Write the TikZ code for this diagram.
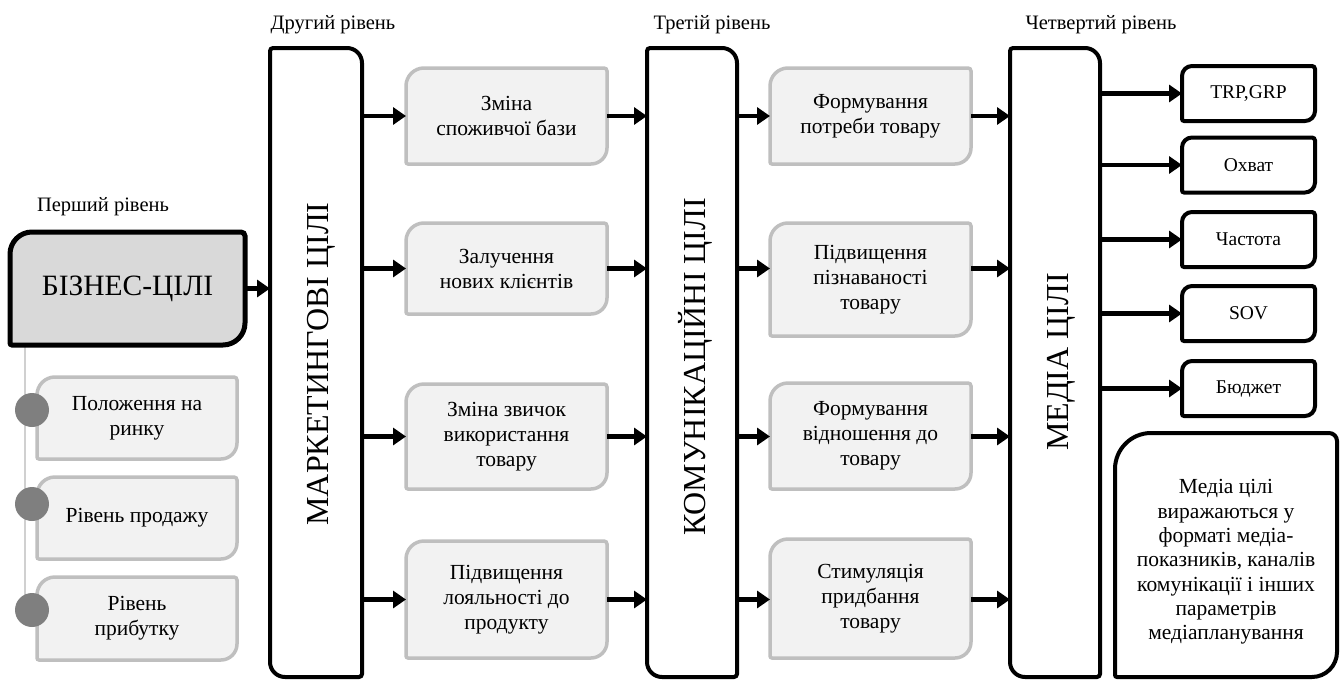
\documentclass[tikz,border=0pt]{standalone}
\usepackage{fontspec}
\setmainfont{Liberation Serif}
\usepackage{tikz}
\usetikzlibrary{arrows.meta,calc,backgrounds,positioning}

\definecolor{boxgray}{HTML}{F2F2F2}
\definecolor{linegray}{HTML}{BFBFBF}
\definecolor{bizgray}{HTML}{D9D9D9}
\definecolor{dotgray}{HTML}{7F7F7F}
\definecolor{spinegray}{HTML}{D0D0D0}

\newcommand{\bigtxt}{\fontsize{32}{36}\selectfont}
\newcommand{\biztxt}{\fontsize{29.5}{34}\selectfont}
\newcommand{\smalltxt}{\fontsize{19.5}{22}\selectfont}

% outline of a node with its own radius at each corner: TL, TR, BR, BL
\newcommand{\cornerpath}[6]{%
  \draw[#2] ($(#1.north west)+(0,#3)$)
    .. controls ($(#1.north west)+(0,0.45*#3)$) and ($(#1.north west)+(0.45*#3,0)$) .. ($(#1.north west)+(#3,0)$)
    -- ($(#1.north east)+(-#4,0)$)
    .. controls ($(#1.north east)+(-0.45*#4,0)$) and ($(#1.north east)+(0,0.45*#4)$) .. ($(#1.north east)+(0,#4)$)
    -- ($(#1.south east)+(0,-#5)$)
    .. controls ($(#1.south east)+(0,-0.45*#5)$) and ($(#1.south east)+(-0.45*#5,0)$) .. ($(#1.south east)+(-#5,0)$)
    -- ($(#1.south west)+(#6,0)$)
    .. controls ($(#1.south west)+(0.45*#6,0)$) and ($(#1.south west)+(0,-0.45*#6)$) .. ($(#1.south west)+(0,-#6)$)
    -- cycle;}

\tikzstyle{arr}  =[line width=4.5pt, -{Triangle[length=13pt,width=17pt]}]
\tikzstyle{plain}=[inner sep=0pt, outer sep=0pt, align=center]
\tikzstyle{gbox} =[plain, minimum width=201pt]
\tikzstyle{sbox} =[plain, minimum width=200pt]
\tikzstyle{tall} =[plain, minimum width=90pt, minimum height=629pt]
\tikzstyle{mbox} =[plain, minimum width=133pt, minimum height=55pt,
                   font=\smalltxt]
\tikzstyle{lvl}  =[plain, font=\fontsize{20.5}{24}\selectfont]
\tikzstyle{dot}  =[circle, fill=dotgray, minimum size=34pt,
                   inner sep=0pt]
\tikzstyle{grayline} =[draw=linegray, fill=boxgray, line width=3.5pt]
\tikzstyle{blackline}=[draw=black, fill=white, line width=4pt]

\begin{document}
\begin{tikzpicture}[x=1pt, y=-1pt, font=\fontsize{21.5}{25}\selectfont]
    \useasboundingbox (0,0) rectangle (1344,680);

    % level labels
    \draw (103,207) node (lvlone) [lvl] {Перший рівень};
    \draw (333,25) node (lvltwo) [lvl] {Другий рівень};
    \draw (712,25) node (lvlthree) [lvl] {Третій рівень};
    \draw (1101,25) node (lvlfour) [lvl] {Четвертий рівень};

    % first level
    \draw (127.5,288.5) node (biz) [plain, minimum width=235pt, minimum height=113pt, font=\biztxt] {БІЗНЕС-ЦІЛІ};
    \draw (137,418) node (s1) [sbox, minimum height=82pt] {Положення на\\ринку};
    \draw (137,518) node (s2) [sbox, minimum height=82pt] {Рівень продажу};
    \draw (137,618.5) node (s3) [sbox, minimum height=83pt] {Рівень\\прибутку};
    \coordinate (spinetop) at (25,345);

    % second level
    \draw (316,362.5) node (mk) [tall, minimum width=92pt] {};
    \draw (328,364) node (mktext) [anchor=base, rotate=90, font=\bigtxt] {МАРКЕТИНГОВІ ЦІЛІ};
    \draw (506.5,116) node (c2a) [gbox, minimum height=96pt] {Зміна\\споживчої бази};
    \draw (506.5,268.5) node (c2b) [gbox, minimum height=91pt] {Залучення\\нових клієнтів};
    \draw (506.5,436.5) node (c2c) [gbox, minimum height=105pt] {Зміна звичок\\використання\\товару};
    \draw (506.5,599.5) node (c2d) [gbox, minimum height=117pt] {Підвищення\\лояльності до\\продукту};

    % third level
    \draw (692,362.5) node (kom) [tall] {};
    \draw (705,367) node (komtext) [anchor=base, rotate=90, font=\bigtxt] {КОМУНІКАЦІЙНІ ЦІЛІ};
    \draw (870.5,116) node (c3a) [gbox, minimum height=96pt] {Формування\\потреби товару};
    \draw (870.5,279.5) node (c3b) [gbox, minimum height=113pt] {Підвищення\\пізнаваності\\товару};
    \draw (870.5,436) node (c3c) [gbox, minimum height=106pt] {Формування\\відношення до\\товару};
    \draw (870.5,598.5) node (c3d) [gbox, minimum height=119pt] {Стимуляція\\придбання\\товару};

    % fourth level
    \draw (1055,362.5) node (med) [tall] {};
    \draw (1068,362) node (medtext) [anchor=base, rotate=90, font=\bigtxt] {МЕДІА ЦІЛІ};
    \draw (1248.5,93.5) node (r1) [mbox] {TRP,GRP};
    \draw (1248.5,165) node (r2) [mbox] {Охват};
    \draw (1248.5,239.5) node (r3) [mbox] {Частота};
    \draw (1248.5,313.5) node (r4) [mbox] {SOV};
    \draw (1248.5,388.5) node (r5) [mbox] {Бюджет};
    \draw (1226,555) node (note) [plain, minimum width=222pt, minimum height=244pt] {};
    \draw (1226,562) node (notetext) [plain, font=\fontsize{21.5}{24.3}\selectfont]
        {Медіа цілі\\виражаються у\\форматі медіа-\\показників, каналів\\комунікації і інших\\параметрів\\медіапланування};

    % outlines behind the texts
    \begin{scope}[on background layer]
        \draw [spinegray, line width=2pt] (spinetop) -- (spinetop |- s3.west);
        \cornerpath{biz}{blackline, fill=bizgray, line width=5pt}{22}{4}{22}{2}
        \foreach \n in {s1,s2,s3,c2a,c2b,c2c,c2d,c3a,c3b,c3c,c3d} {
            \cornerpath{\n}{grayline}{18}{3}{16}{2}
        }
        \foreach \n in {mk,kom,med} {
            \cornerpath{\n}{blackline}{3}{15}{3}{15}
        }
        \foreach \n in {r1,r2,r3,r4,r5} {
            \cornerpath{\n}{blackline}{10}{3}{10}{2}
        }
        \cornerpath{note}{blackline}{36}{8}{25}{2}
    \end{scope}

    \draw (32,410) node (d1) [dot] {};
    \draw (32,504) node (d2) [dot] {};
    \draw (32,610) node (d3) [dot] {};

    % connectors
    \draw [arr] (biz.east) -- (mk.west |- biz.east);
    \foreach \a/\b in {c2a/c3a,c2b/c3b,c2c/c3c,c2d/c3d} {
        \draw [arr] (mk.east |- \a.west) -- (\a.west);
        \draw [arr] (\a.east) -- (kom.west |- \a.east);
        \draw [arr] (kom.east |- \a.east) -- (\b.west |- \a.east);
        \draw [arr] (\b.east |- \a.east) -- (med.west |- \a.east);
    }
    \foreach \r in {r1,r2,r3,r4,r5}
        \draw [arr] (med.east |- \r.west) -- (\r.west);

\end{tikzpicture}
\end{document}
